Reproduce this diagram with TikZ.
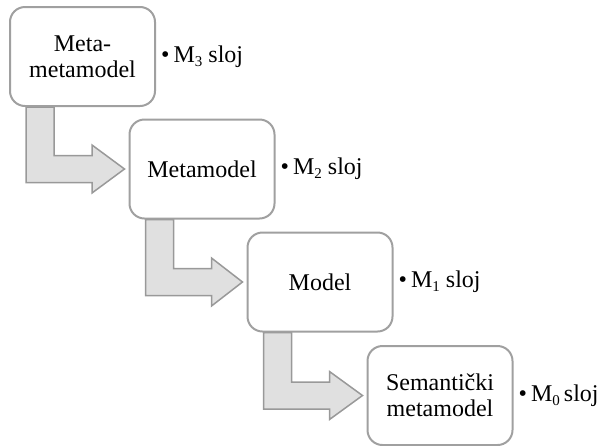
\documentclass[tikz,border=0pt]{standalone}
\usepackage{fontspec}
\setmainfont{Liberation Serif}
\usetikzlibrary{calc,backgrounds}
\definecolor{boxgray}{HTML}{A0A0A0}
\definecolor{arrowgray}{HTML}{999999}
\definecolor{arrowfill}{HTML}{E0E0E0}
\newcommand\bentarrow[2]{%
  \path[barrow] let \p1=(#1.south west), \p2=(#2.west) in
    (\x1+17pt,\y1) -- (\x1+45pt,\y1) -- (\x1+45pt,\y2+13.5pt) --
    (\x1+83pt,\y2+13.5pt) -- (\x1+83pt,\y2+24pt) -- (\x2-4pt,\y2) --
    (\x1+83pt,\y2-24pt) -- (\x1+83pt,\y2-13.5pt) -- (\x1+17pt,\y2-13.5pt) -- cycle;}
\newcommand\lowsub[1]{\raisebox{-0.35ex}{\fontsize{15}{15}\selectfont #1}}
\begin{document}
\begin{tikzpicture}[x=1pt,y=-1pt,
  box/.style={draw=boxgray, line width=2pt, rounded corners=15pt, fill=white,
    minimum width=145pt, minimum height=99pt, align=center,
    font=\fontsize{24}{26}\selectfont, inner sep=0pt},
  lab/.style={anchor=west, font=\fontsize{24}{26}\selectfont, inner sep=0pt},
  barrow/.style={draw=arrowgray, line width=1.5pt, fill=arrowfill}]
\useasboundingbox (0,0) rectangle (601,445);
\node[box] (b1) at (82.5,56.5) {Meta-\\metamodel};
\node[box] (b2) at (202,169) {Metamodel};
\node[box] (b3) at (320,282) {Model};
\node[box] (b4) at (440,395.5) {Semantički\\metamodel};
\node[lab] (l1) at ($(b1.east)+(5,0)$) {\textbullet\,M\lowsub{3} sloj};
\node[lab] (l2) at ($(b2.east)+(5,0)$) {\textbullet\,M\lowsub{2} sloj};
\node[lab] (l3) at ($(b3.east)+(5,0)$) {\textbullet\,M\lowsub{1} sloj};
\node[lab] (l4) at ($(b4.east)+(5,0)$) {\textbullet\,M\lowsub{0}\,sloj};
\begin{scope}[on background layer]
\bentarrow{b1}{b2}
\bentarrow{b2}{b3}
\bentarrow{b3}{b4}
\end{scope}
\end{tikzpicture}
\end{document}
